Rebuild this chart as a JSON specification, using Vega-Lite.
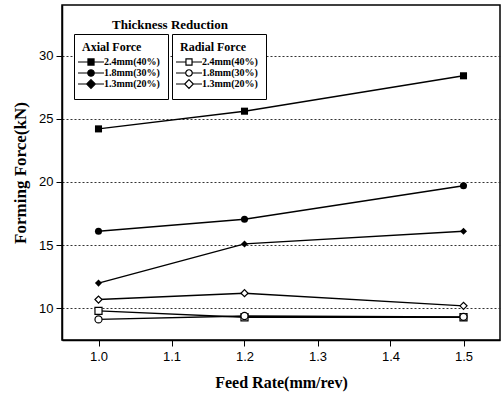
{
  "$schema": "https://vega.github.io/schema/vega-lite/v6.json",
  "width": 438,
  "height": 335,
  "autosize": {"type": "none"},
  "padding": {"left": 62, "top": 5, "right": 1, "bottom": 53},
  "background": "white",
  "title": {
    "text": "Thickness Reduction",
    "anchor": "start",
    "frame": "group",
    "orient": "top",
    "offset": -27,
    "dx": 50,
    "font": "Liberation Serif",
    "fontSize": 13,
    "fontWeight": "bold",
    "color": "black"
  },
  "config": {
    "view": {"stroke": "black", "strokeWidth": 1.5},
    "axis": {
      "labelFont": "Liberation Sans",
      "labelFontSize": 13,
      "labelColor": "black",
      "titleFont": "Liberation Serif",
      "titleFontWeight": "bold",
      "titleColor": "black",
      "domainColor": "black",
      "tickColor": "black",
      "domainWidth": 1.5
    }
  },
  "data": {
    "values": [
      {"type": "Axial", "series": "2.4mm(40%)", "feed": 1.0, "force": 24.2},
      {"type": "Axial", "series": "2.4mm(40%)", "feed": 1.2, "force": 25.6},
      {"type": "Axial", "series": "2.4mm(40%)", "feed": 1.5, "force": 28.4},
      {"type": "Axial", "series": "1.8mm(30%)", "feed": 1.0, "force": 16.1},
      {"type": "Axial", "series": "1.8mm(30%)", "feed": 1.2, "force": 17.05},
      {"type": "Axial", "series": "1.8mm(30%)", "feed": 1.5, "force": 19.7},
      {"type": "Axial", "series": "1.3mm(20%)", "feed": 1.0, "force": 12.0},
      {"type": "Axial", "series": "1.3mm(20%)", "feed": 1.2, "force": 15.1},
      {"type": "Axial", "series": "1.3mm(20%)", "feed": 1.5, "force": 16.1},
      {"type": "Radial", "series": "2.4mm(40%)", "feed": 1.0, "force": 9.8},
      {"type": "Radial", "series": "2.4mm(40%)", "feed": 1.2, "force": 9.3},
      {"type": "Radial", "series": "2.4mm(40%)", "feed": 1.5, "force": 9.3},
      {"type": "Radial", "series": "1.8mm(30%)", "feed": 1.0, "force": 9.13},
      {"type": "Radial", "series": "1.8mm(30%)", "feed": 1.2, "force": 9.4},
      {"type": "Radial", "series": "1.8mm(30%)", "feed": 1.5, "force": 9.33},
      {"type": "Radial", "series": "1.3mm(20%)", "feed": 1.0, "force": 10.7},
      {"type": "Radial", "series": "1.3mm(20%)", "feed": 1.2, "force": 11.2},
      {"type": "Radial", "series": "1.3mm(20%)", "feed": 1.5, "force": 10.2}
    ]
  },
  "encoding": {
    "x": {
      "field": "feed",
      "type": "quantitative",
      "scale": {"domain": [0.95, 1.55], "nice": false, "zero": false},
      "axis": {
        "title": "Feed Rate(mm/rev)",
        "titleFontSize": 16,
        "titlePadding": 11,
        "values": [1.0, 1.1, 1.2, 1.3, 1.4, 1.5],
        "format": ".1f",
        "grid": false,
        "tickSize": 6,
        "labelPadding": 4
      }
    },
    "y": {
      "field": "force",
      "type": "quantitative",
      "scale": {"domain": [7.5, 34], "nice": false, "zero": false},
      "axis": {
        "title": "Forming Force(kN)",
        "titleFontSize": 17,
        "titlePadding": 9,
        "values": [10, 15, 20, 25, 30],
        "grid": true,
        "gridDash": [2, 2],
        "gridColor": "#333333",
        "gridWidth": 1,
        "tickSize": 6,
        "labelPadding": 3
      }
    }
  },
  "layer": [
    {
      "mark": {"type": "line", "color": "black", "strokeWidth": 1.4},
      "encoding": {"detail": [{"field": "type"}, {"field": "series"}]}
    },
    {
      "transform": [{"filter": "datum.type === 'Axial'"}],
      "mark": {"type": "point", "filled": true, "color": "black", "size": 50, "opacity": 1},
      "encoding": {
        "shape": {
          "field": "series",
          "type": "nominal",
          "scale": {"domain": ["2.4mm(40%)", "1.8mm(30%)", "1.3mm(20%)"], "range": ["square", "circle", "diamond"]},
          "legend": null
        }
      }
    },
    {
      "transform": [{"filter": "datum.type === 'Radial'"}],
      "mark": {"type": "point", "filled": true, "fill": "white", "stroke": "black", "strokeWidth": 1.2, "size": 50, "opacity": 1},
      "encoding": {
        "shape": {
          "field": "series",
          "type": "nominal",
          "scale": {"domain": ["2.4mm(40%)", "1.8mm(30%)", "1.3mm(20%)"], "range": ["square", "circle", "diamond"]},
          "legend": null
        }
      }
    },
    {
      "transform": [{"filter": "datum.type === 'Axial'"}],
      "mark": {"type": "point", "filled": false, "color": "black", "fill": "black", "strokeWidth": 1.2, "size": 75, "opacity": 0},
      "encoding": {
        "shape": {
          "field": "series",
          "type": "nominal",
          "scale": {
            "domain": ["2.4mm(40%)", "1.8mm(30%)", "1.3mm(20%)"],
            "range": [
              "M-3,0H-0.7M0.7,0H3M-0.7,-0.7H0.7V0.7H-0.7Z",
              "M-3,0H-0.75M0.75,0H3M0.75,0A0.75,0.75 0 1,1 -0.75,0A0.75,0.75 0 1,1 0.75,0Z",
              "M-3,0H-1M1,0H3M0,-1L1,0L0,1L-1,0Z"
            ]
          },
          "legend": {
            "title": "Axial Force",
            "orient": "none",
            "legendX": 12,
            "legendY": 29,
            "symbolOpacity": 1,
            "symbolStrokeWidth": 1.2,
            "symbolSize": 75,
            "symbolOffset": 4,
            "labelOffset": 8,
            "labelFont": "Liberation Serif",
            "labelFontWeight": "bold",
            "labelFontSize": 10,
            "labelColor": "black",
            "titleFont": "Liberation Serif",
            "titleFontWeight": "bold",
            "titleFontSize": 12,
            "titleColor": "black",
            "titlePadding": 3,
            "rowPadding": -8,
            "padding": 8,
            "strokeColor": "black",
            "fillColor": "white"
          }
        }
      }
    },
    {
      "transform": [{"filter": "datum.type === 'Radial'"}],
      "mark": {"type": "point", "filled": false, "color": "black", "fill": "white", "strokeWidth": 1.2, "size": 75, "opacity": 0},
      "encoding": {
        "shape": {
          "field": "series",
          "type": "nominal",
          "scale": {
            "domain": ["2.4mm(40%)", "1.8mm(30%)", "1.3mm(20%)"],
            "range": [
              "M-3,0H-0.7M0.7,0H3M-0.7,-0.7H0.7V0.7H-0.7Z",
              "M-3,0H-0.75M0.75,0H3M0.75,0A0.75,0.75 0 1,1 -0.75,0A0.75,0.75 0 1,1 0.75,0Z",
              "M-3,0H-1M1,0H3M0,-1L1,0L0,1L-1,0Z"
            ]
          },
          "legend": {
            "title": "Radial Force",
            "orient": "none",
            "legendX": 110,
            "legendY": 29,
            "symbolOpacity": 1,
            "symbolStrokeWidth": 1.2,
            "symbolSize": 75,
            "symbolOffset": 4,
            "labelOffset": 8,
            "labelFont": "Liberation Serif",
            "labelFontWeight": "bold",
            "labelFontSize": 10,
            "labelColor": "black",
            "titleFont": "Liberation Serif",
            "titleFontWeight": "bold",
            "titleFontSize": 12,
            "titleColor": "black",
            "titlePadding": 3,
            "rowPadding": -8,
            "padding": 8,
            "strokeColor": "black",
            "fillColor": "white"
          }
        }
      }
    }
  ],
  "resolve": {"scale": {"shape": "independent"}, "legend": {"shape": "independent"}}
}
